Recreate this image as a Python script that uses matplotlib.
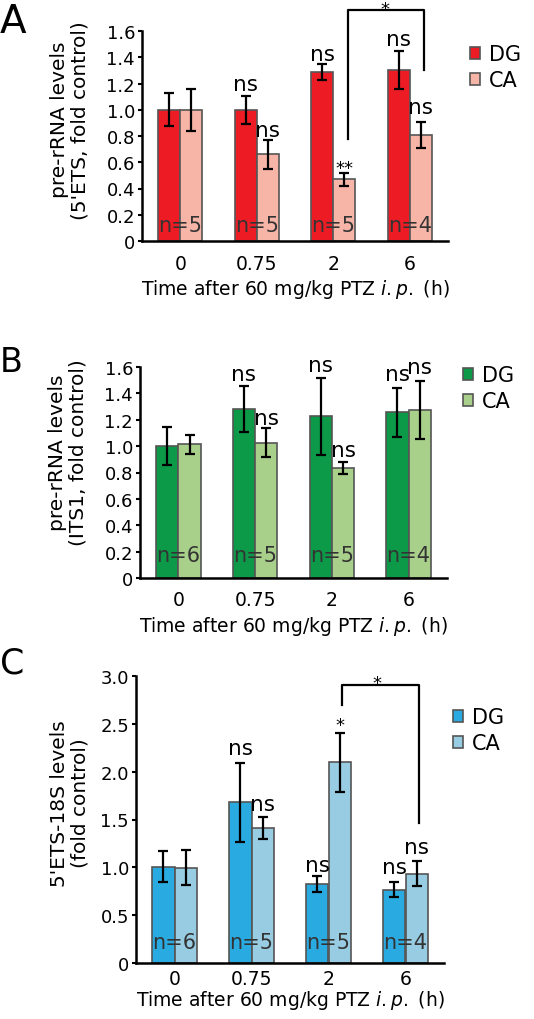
import numpy as np
import matplotlib.pyplot as plt
from matplotlib.lines import Line2D

plt.rcParams['font.family'] = ['DejaVu Sans']

groups = ['0', '0.75', '2', '6']

# panel A: 5'ETS
a_dg = [1.00, 1.00, 1.29, 1.30]
a_dg_err = [0.125, 0.105, 0.06, 0.145]
a_ca = [1.00, 0.66, 0.47, 0.81]
a_ca_err = [0.16, 0.11, 0.05, 0.10]
a_n = ['n=5', 'n=5', 'n=5', 'n=4']

# panel B: ITS1
b_dg = [1.00, 1.28, 1.225, 1.255]
b_dg_err = [0.143, 0.175, 0.29, 0.186]
b_ca = [1.013, 1.025, 0.833, 1.276]
b_ca_err = [0.075, 0.11, 0.048, 0.22]
b_n = ['n=6', 'n=5', 'n=5', 'n=4']

# panel C: 5'ETS-18S
c_dg = [1.008, 1.678, 0.827, 0.767]
c_dg_err = [0.16, 0.415, 0.082, 0.08]
c_ca = [0.998, 1.409, 2.096, 0.931]
c_ca_err = [0.18, 0.117, 0.305, 0.13]
c_n = ['n=6', 'n=5', 'n=5', 'n=4']

red, pink = '#ED1C24', '#F7B5A8'
green, lgreen = '#0C9A48', '#A8D08A'
blue, lblue = '#29ABE2', '#97CCE3'

W = 534
H = 1020
fig = plt.figure(figsize=(W / 100, H / 100), dpi=100)


def px_axes(left, top, right, bottom):
    return fig.add_axes([left / W, 1 - bottom / H, (right - left) / W, (bottom - top) / H])


def panel(ax, dg, dge, ca, cae, cols, ymax, step, ylab, nlabs, ny, leg_xy, tpad=9, lpad=3):
    x = np.arange(len(groups))
    w = 0.29
    b1 = ax.bar(x - w / 2, dg, w, color=cols[0], edgecolor='#555555', linewidth=1.2, label='DG', zorder=2)
    b2 = ax.bar(x + w / 2, ca, w, color=cols[1], edgecolor='#555555', linewidth=1.2, label='CA', zorder=2)
    ax.errorbar(x - w / 2, dg, yerr=dge, fmt='none', ecolor='black', elinewidth=1.6, capsize=3.5, capthick=1.6, zorder=3)
    ax.errorbar(x + w / 2, ca, yerr=cae, fmt='none', ecolor='black', elinewidth=1.6, capsize=3.5, capthick=1.6, zorder=3)
    ax.set_xlim(-0.5, 3.5)
    ax.set_ylim(0, ymax)
    ticks = np.arange(0, ymax + step / 2, step)
    ax.set_yticks(ticks)
    ax.set_yticklabels(['0'] + ['%.1f' % t for t in ticks[1:]], fontsize=13)
    ax.set_xticks(x)
    ax.set_xticklabels(groups, fontsize=13.5)
    ax.tick_params(axis='x', length=0, pad=tpad)
    ax.tick_params(axis='y', length=3, width=1.5, pad=2)
    for s in ['top', 'right']:
        ax.spines[s].set_visible(False)
    for s in ['left', 'bottom']:
        ax.spines[s].set_linewidth(1.8)
    ax.set_xlabel(r'Time after 60 mg/kg PTZ $\mathit{i.p.}$ (h)', fontsize=13.5, labelpad=lpad)
    ax.set_ylabel(ylab, fontsize=14.5, linespacing=1.1)
    for i, t in enumerate(nlabs):
        ax.text(i, ny, t, ha='center', va='center', fontsize=15, color='#333333', zorder=4)
    ax.legend(handles=[b1, b2], loc='upper left', bbox_to_anchor=(leg_xy[0] / W, 1 - leg_xy[1] / H),
              bbox_transform=fig.transFigure, frameon=False, fontsize=15, handlelength=0.5,
              handleheight=0.5, handletextpad=0.4, labelspacing=0.3, borderpad=0, borderaxespad=0)


def ns(ax, x, y):
    ax.text(x, y, 'ns', ha='center', va='center', fontsize=15.5, clip_on=False)


def star(ax, x, y, s='*'):
    ax.annotate(s, (x, y), xytext=(0, -4.5), textcoords='offset points', ha='center', va='center',
                fontsize=13, annotation_clip=False)


def bracket(ax, x0, x1, ytop, yl, yr):
    ax.add_line(Line2D([x0, x0, x1, x1], [yl, ytop, ytop, yr], color='black', lw=1.6, clip_on=False))


# A
axA = px_axes(142, 32, 448, 242)
panel(axA, a_dg, a_dg_err, a_ca, a_ca_err, (red, pink), 1.6, 0.2,
      "pre-rRNA levels\n(5'ETS, fold control)", a_n, 0.124, (470, 45))
axA.yaxis.set_label_coords(-0.17, 0.58)
ns(axA, 0.855, 1.195)
ns(axA, 1.145, 0.848)
ns(axA, 1.855, 1.428)
star(axA, 2.145, 0.605, '**')
ns(axA, 2.855, 1.537)
ns(axA, 3.145, 1.023)
bracket(axA, 2.19, 3.18, 1.757, 0.777, 1.30)
star(axA, 2.68, 1.815)

# B
axB = px_axes(140, 368, 447, 579)
panel(axB, b_dg, b_dg_err, b_ca, b_ca_err, (green, lgreen), 1.6, 0.2,
      "pre-rRNA levels\n(ITS1, fold control)", b_n, 0.175, (463, 366))
axB.yaxis.set_label_coords(-0.17, 0.6)
ns(axB, 0.855, 1.549)
ns(axB, 1.145, 1.213)
ns(axB, 1.855, 1.613)
ns(axB, 2.145, 0.967)
ns(axB, 2.855, 1.549)
ns(axB, 3.145, 1.60)

# C
axC = px_axes(136, 677, 444, 964)
panel(axC, c_dg, c_dg_err, c_ca, c_ca_err, (blue, lblue), 3.0, 0.5,
      "5'ETS-18S levels\n(fold control)", c_n, 0.216, (453, 708), tpad=4, lpad=0)
axC.yaxis.set_label_coords(-0.15, 0.56)
ns(axC, 0.855, 2.246)
ns(axC, 1.145, 1.657)
ns(axC, 1.855, 1.029)
star(axC, 2.145, 2.553)
ns(axC, 2.855, 1.001)
ns(axC, 3.145, 1.217)
bracket(axC, 2.17, 3.18, 2.909, 2.70, 1.465)
star(axC, 2.63, 2.99)

fig.text(0 / W, 1 - 22 / H, 'A', fontsize=28, va='center', ha='left')
fig.text(0 / W, 1 - 363 / H, 'B', fontsize=24, va='center', ha='left')
fig.text(0 / W, 1 - 663 / H, 'C', fontsize=25, va='center', ha='left')

fig.savefig('out.png', dpi=100)
